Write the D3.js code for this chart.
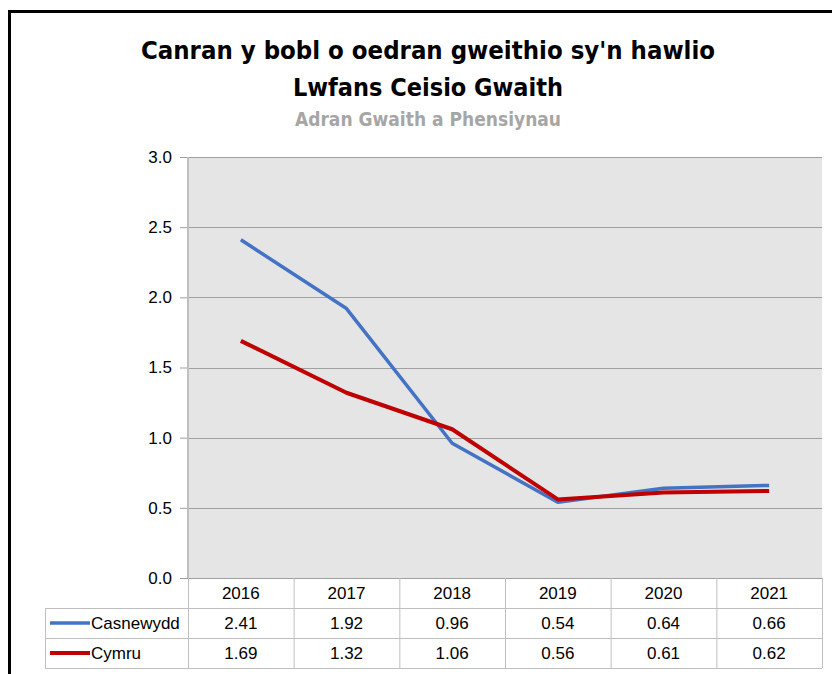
<!DOCTYPE html>
<html>
<head>
<meta charset="utf-8">
<script src="https://cdn.jsdelivr.net/npm/d3@7"></script>
<style>
  body { margin: 0; background: #fff; }
  svg { display: block; }
</style>
</head>
<body>
<div id="chart"></div>
<script>
const years = ['2016', '2017', '2018', '2019', '2020', '2021'];
const casnewydd = [2.41, 1.92, 0.96, 0.54, 0.64, 0.66];
const cymru = [1.69, 1.32, 1.06, 0.56, 0.61, 0.62];
const yTicks = [0, 0.5, 1.0, 1.5, 2.0, 2.5, 3.0];

const series = [
  { name: 'Casnewydd', values: casnewydd, color: '#4472c4', width: 3.5 },
  { name: 'Cymru', values: cymru, color: '#c00000', width: 4 }
];

const width = 832, height = 674;
const plot = { left: 188, right: 822, top: 157, bottom: 578 };
const rowH = 30;
const tableLeft = 45;
const font = "'Liberation Sans', Arial, sans-serif";
const titleFont = "'Liberation Sans Narrow', 'DejaVu Sans Condensed', sans-serif";

const svg = d3.select('#chart')
  .append('svg')
  .attr('width', width)
  .attr('height', height);

// outer frame (right and bottom edges fall outside the picture)
svg.append('rect')
  .attr('x', 9.5).attr('y', 11.5)
  .attr('width', 900).attr('height', 800)
  .attr('fill', 'none')
  .attr('stroke', '#000')
  .attr('stroke-width', 3);

// titles
const cx = 428;
svg.append('text')
  .attr('x', cx).attr('y', 59)
  .attr('text-anchor', 'middle')
  .style('font-family', titleFont).style('font-weight', 'bold').style('font-size', '25.5px')
  .text("Canran y bobl o oedran gweithio sy'n hawlio");
svg.append('text')
  .attr('x', cx).attr('y', 96)
  .attr('text-anchor', 'middle')
  .style('font-family', titleFont).style('font-weight', 'bold').style('font-size', '25px')
  .text('Lwfans Ceisio Gwaith');
svg.append('text')
  .attr('x', cx).attr('y', 126)
  .attr('text-anchor', 'middle')
  .attr('fill', '#a6a6a6')
  .style('font-family', titleFont).style('font-weight', 'bold').style('font-size', '19px')
  .text('Adran Gwaith a Phensiynau');

let x = d3.scaleBand()
  .domain(years)
  .range([plot.left, plot.right]);

let y = d3.scaleLinear()
  .domain([0, 3])
  .range([plot.bottom, plot.top]);

// plot background
svg.append('rect')
  .attr('x', plot.left).attr('y', plot.top)
  .attr('width', plot.right - plot.left)
  .attr('height', plot.bottom - plot.top)
  .attr('fill', '#e5e5e5');

// y axis ticks + labels
const yAxis = svg.append('g')
  .attr('transform', 'translate(' + plot.left + ',0)')
  .call(d3.axisLeft(y)
    .tickValues(yTicks)
    .tickFormat(d3.format('.1f'))
    .tickSize(8)
    .tickPadding(8));
yAxis.select('.domain').remove();
yAxis.selectAll('line').attr('stroke', '#a0a0a0');
yAxis.selectAll('text')
  .style('font-family', font)
  .style('font-size', '17px')
  .attr('fill', '#000');

// gridlines
svg.append('g')
  .selectAll('line')
  .data(yTicks.filter(d => d > 0))
  .join('line')
    .attr('x1', plot.left).attr('x2', plot.right)
    .attr('y1', d => Math.round(y(d)) + 0.5)
    .attr('y2', d => Math.round(y(d)) + 0.5)
    .attr('stroke', '#a0a0a0');

svg.append('line')
  .attr('x1', plot.left).attr('x2', plot.left)
  .attr('y1', plot.top).attr('y2', plot.bottom)
  .attr('stroke', '#bfbfbf')
  .attr('stroke-width', 2);

// lines
const line = d3.line()
  .x((d, i) => x(years[i]) + x.bandwidth() / 2)
  .y(d => y(d));

svg.append('g')
  .selectAll('path')
  .data(series)
  .join('path')
    .attr('d', d => line(d.values))
    .attr('fill', 'none')
    .attr('stroke', d => d.color)
    .attr('stroke-width', d => d.width)
    .attr('stroke-linejoin', 'round');

// data table
const table = svg.append('g');
const gridColor = '#bfbfbf';
const tableBottom = plot.bottom + rowH * 3;

table.append('line')
  .attr('x1', plot.left).attr('x2', plot.right)
  .attr('y1', plot.bottom + 0.5).attr('y2', plot.bottom + 0.5)
  .attr('stroke', '#a0a0a0');

[1, 2, 3].forEach(r => {
  table.append('line')
    .attr('x1', tableLeft).attr('x2', plot.right)
    .attr('y1', plot.bottom + rowH * r + 0.5)
    .attr('y2', plot.bottom + rowH * r + 0.5)
    .attr('stroke', gridColor);
});

table.selectAll('.vline')
  .data(years.concat(['end']))
  .join('line')
    .attr('class', 'vline')
    .attr('x1', d => (d === 'end' ? plot.right : x(d)) + 0.5)
    .attr('x2', d => (d === 'end' ? plot.right : x(d)) + 0.5)
    .attr('y1', plot.bottom)
    .attr('y2', tableBottom)
    .attr('stroke', gridColor);

table.append('line')
  .attr('x1', tableLeft + 0.5).attr('x2', tableLeft + 0.5)
  .attr('y1', plot.bottom + rowH).attr('y2', tableBottom)
  .attr('stroke', gridColor);

table.selectAll('.year')
  .data(years)
  .join('text')
    .attr('class', 'year')
    .attr('x', d => x(d) + x.bandwidth() / 2)
    .attr('y', plot.bottom + rowH / 2)
    .attr('dy', '0.35em')
    .attr('text-anchor', 'middle')
    .style('font-family', font).style('font-size', '17px')
    .text(d => d);

series.forEach((s, si) => {
  const rowY = plot.bottom + rowH * (si + 1) + rowH / 2;
  table.append('line')
    .attr('x1', tableLeft + 5).attr('x2', tableLeft + 45)
    .attr('y1', rowY).attr('y2', rowY)
    .attr('stroke', s.color)
    .attr('stroke-width', s.width);
  table.append('text')
    .attr('x', tableLeft + 46)
    .attr('y', rowY)
    .attr('dy', '0.35em')
    .style('font-family', font).style('font-size', '17px')
    .text(s.name);
  table.selectAll('.v' + si)
    .data(s.values)
    .join('text')
      .attr('x', (d, i) => x(years[i]) + x.bandwidth() / 2)
      .attr('y', rowY)
      .attr('dy', '0.35em')
      .attr('text-anchor', 'middle')
      .style('font-family', font).style('font-size', '17px')
      .text(d => d.toFixed(2));
});
</script>
</body>
</html>
